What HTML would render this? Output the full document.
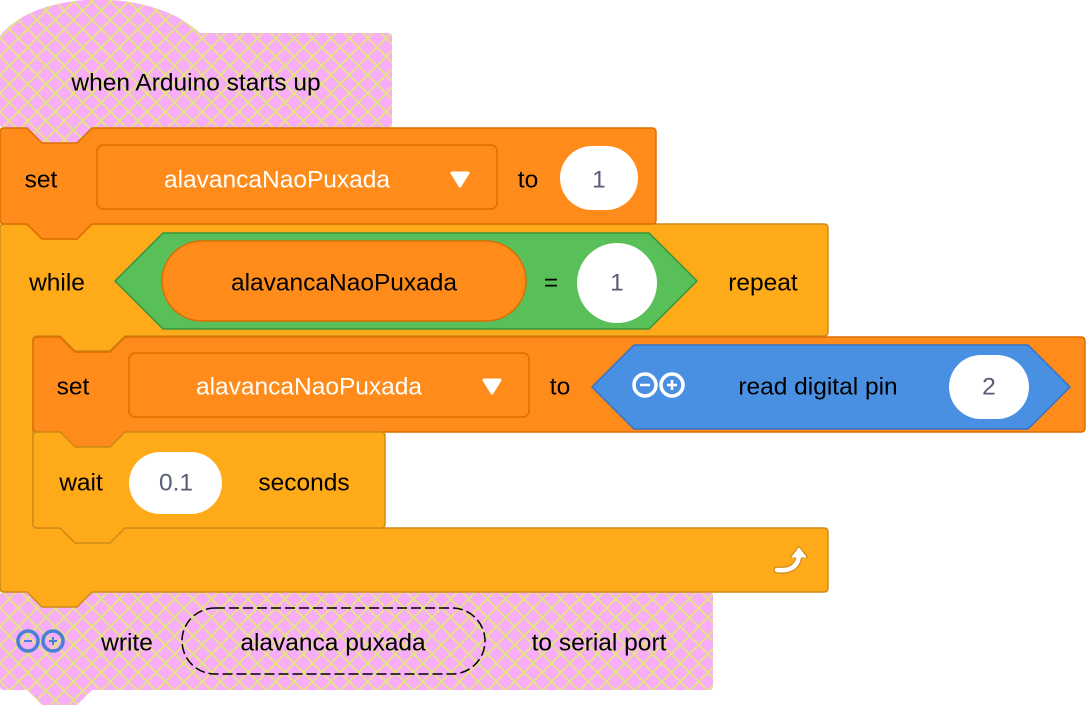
<!DOCTYPE html>
<html><head><meta charset="utf-8"><style>
html,body{margin:0;padding:0;background:#fff;}
svg{display:block;}
text{font-family:"Liberation Sans","DejaVu Sans",sans-serif;font-size:24.5px;dominant-baseline:central;}
</style></head><body>
<svg width="1086" height="705" viewBox="0 0 1086 705" xmlns="http://www.w3.org/2000/svg">
<defs>
<pattern id="hatch" width="13" height="13" patternUnits="userSpaceOnUse" patternTransform="rotate(45)">
<rect width="13" height="13" fill="#f7adf7"/>
<rect x="0" y="0" width="2" height="13" fill="#e6e088"/>
<rect x="0" y="0" width="13" height="2" fill="#e6e088"/>
</pattern>
</defs>

<!-- hat -->
<path d="M0,36 C35,-10 150,-14 200,33 L388,33 Q392,33 392,37 L392,124 Q392,128 388,128 L92,128 L77,143 L42,143 L27,128 L4,128 Q0,128 0,124 Z" fill="url(#hatch)"/>
<text x="196" y="83" text-anchor="middle" fill="#000">when Arduino starts up</text>

<!-- write block -->
<path d="M0,596 Q0,592 4,592 L27,592 L42,607 L77,607 L92,592 L709,592 Q713,592 713,596 L713,686 Q713,690 709,690 L92,690 L77,705 L42,705 L27,690 L4,690 Q0,690 0,686 Z" fill="url(#hatch)"/>
<g fill="none" stroke="#4a7fd6" stroke-width="3.5">
<circle cx="28" cy="641" r="10"/><circle cx="53" cy="641" r="10"/></g>
<path d="M24,641 h8 M49,641 h8 M53,637 v8" stroke="#4a7fd6" stroke-width="2"/>
<text x="127" y="643" text-anchor="middle" fill="#000">write</text>
<rect x="182" y="608" width="303" height="66" rx="33" fill="none" stroke="#000" stroke-width="1.5" stroke-dasharray="10,4"/>
<text x="333" y="643" text-anchor="middle" fill="#000">alavanca puxada</text>
<text x="599" y="643" text-anchor="middle" fill="#000">to serial port</text>

<!-- C block while -->
<path d="M0,228 Q0,224 4,224 L27,224 L42,239 L77,239 L92,224 L824,224 Q828,224 828,228 L828,332 Q828,336 824,336 L125,336 L110,351 L75,351 L60,336 L37,336 Q33,336 33,340 L33,524 Q33,528 37,528 L824,528 Q828,528 828,532 L828,588 Q828,592 824,592 L92,592 L77,607 L42,607 L27,592 L4,592 Q0,592 0,588 Z" fill="#ffab19" stroke="#cf8b17" stroke-width="1.5"/>
<text x="57" y="283" text-anchor="middle" fill="#000">while</text>
<path d="M115,281 L163,233 L649,233 L697,281 L649,329 L163,329 Z" fill="#59c059" stroke="#389438" stroke-width="1.5"/>
<rect x="162" y="241" width="364" height="80" rx="40" fill="#ff8c1a" stroke="#db6e00" stroke-width="1.5"/>
<text x="344" y="283" text-anchor="middle" fill="#000">alavancaNaoPuxada</text>
<text x="551" y="283" text-anchor="middle" fill="#000">=</text>
<rect x="577" y="243" width="80" height="80" rx="40" fill="#fff"/>
<text x="617" y="283" text-anchor="middle" fill="#575e75">1</text>
<text x="763" y="283" text-anchor="middle" fill="#000">repeat</text>
<path d="M777,570 Q797,572 799,556" fill="none" stroke="#cf8b17" stroke-width="7" stroke-linecap="round"/>
<path d="M791,557 L799,547 L807,557 Z" fill="#cf8b17" stroke="#cf8b17" stroke-width="2" stroke-linejoin="round"/>
<path d="M777,570 Q797,572 799,556" fill="none" stroke="#fff" stroke-width="4.5" stroke-linecap="round"/>
<path d="M792,557 L799,548 L806,557 Z" fill="#fff" stroke="#fff" stroke-width="1" stroke-linejoin="round"/>

<!-- set block 1 -->
<path d="M0,132 Q0,128 4,128 L27,128 L42,143 L77,143 L92,128 L652,128 Q656,128 656,132 L656,220 Q656,224 652,224 L92,224 L77,239 L42,239 L27,224 L4,224 Q0,224 0,220 Z" fill="#ff8c1a" stroke="#db6e00" stroke-width="1.5"/>
<text x="41" y="180" text-anchor="middle" fill="#000">set</text>
<rect x="97" y="145" width="400" height="64" rx="6" fill="#ff8c1a" stroke="#db6e00" stroke-width="1.5"/>
<text x="277" y="180" text-anchor="middle" fill="#fff">alavancaNaoPuxada</text>
<path d="M452,173 L468,173 L460,186 Z" fill="#fff" stroke="#fff" stroke-width="3" stroke-linejoin="round"/>
<text x="528" y="180" text-anchor="middle" fill="#000">to</text>
<rect x="560" y="146" width="78" height="64" rx="32" fill="#fff"/>
<text x="599" y="180" text-anchor="middle" fill="#575e75">1</text>

<!-- set block 2 -->
<path d="M33,341 Q33,337 37,337 L60,337 L75,352 L110,352 L125,337 L1081,337 Q1085,337 1085,341 L1085,428 Q1085,432 1081,432 L125,432 L110,447 L75,447 L60,432 L37,432 Q33,432 33,428 Z" fill="#ff8c1a" stroke="#db6e00" stroke-width="1.5"/>
<text x="73" y="387" text-anchor="middle" fill="#000">set</text>
<rect x="129" y="353" width="400" height="64" rx="6" fill="#ff8c1a" stroke="#db6e00" stroke-width="1.5"/>
<text x="309" y="387" text-anchor="middle" fill="#fff">alavancaNaoPuxada</text>
<path d="M484,380 L500,380 L492,393 Z" fill="#fff" stroke="#fff" stroke-width="3" stroke-linejoin="round"/>
<text x="560" y="387" text-anchor="middle" fill="#000">to</text>
<path d="M592,387 L634,345 L1028,345 L1070,387 L1028,429 L634,429 Z" fill="#4a90e2" stroke="#3373cc" stroke-width="1.5"/>
<g fill="none" stroke="#fff" stroke-width="3.5">
<circle cx="645" cy="385" r="11"/><circle cx="672" cy="385" r="11"/></g>
<path d="M640,385 h10 M667,385 h10 M672,380 v10" stroke="#fff" stroke-width="2.5"/>
<text x="818" y="387" text-anchor="middle" fill="#000">read digital pin</text>
<rect x="949" y="355" width="80" height="64" rx="32" fill="#fff"/>
<text x="989" y="387" text-anchor="middle" fill="#575e75">2</text>

<!-- wait block -->
<path d="M33,436 Q33,432 37,432 L60,432 L75,447 L110,447 L125,432 L381,432 Q385,432 385,436 L385,524 Q385,528 381,528 L125,528 L110,543 L75,543 L60,528 L37,528 Q33,528 33,524 Z" fill="#ffab19" stroke="#cf8b17" stroke-width="1.5"/>
<text x="81" y="483" text-anchor="middle" fill="#000">wait</text>
<rect x="129" y="452" width="93" height="62" rx="31" fill="#fff"/>
<text x="176" y="483" text-anchor="middle" fill="#575e75">0.1</text>
<text x="304" y="483" text-anchor="middle" fill="#000">seconds</text>
</svg>
</body></html>
